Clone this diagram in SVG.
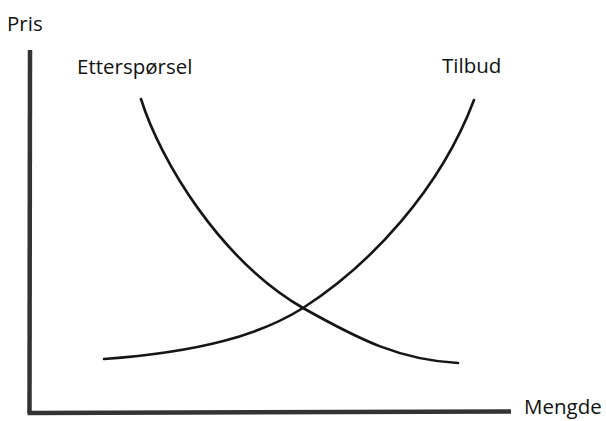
<svg xmlns="http://www.w3.org/2000/svg" width="606" height="421" viewBox="0 0 606 421">
<style>
.lbl{font-family:"Open Sans","Liberation Sans",sans-serif;font-size:20.5px;fill:#111}
.axis{fill:none;stroke:#333;stroke-width:4.5;stroke-linecap:butt}
.curve{fill:none;stroke:#151515;stroke-width:2.6;stroke-linecap:round}
</style>
<rect width="606" height="421" fill="#fff"/>
<g id="axes">
<path class="axis" d="M30,50 L29.5,413"/>
<path class="axis" d="M27.5,413 L511,411.5"/>
<text class="lbl" x="7" y="31">Pris</text>
<text class="lbl" x="524" y="414">Mengde</text>
</g>
<g id="demand">
<path class="curve" d="M141,99 C160,160 220,260 303,308 C360,340 400,360 458,363"/>
<text class="lbl" x="77" y="74">Etterspørsel</text>
</g>
<g id="supply">
<path class="curve" d="M104,359 C200,352 260,335 303,308 C370,265 440,190 474,100"/>
<text class="lbl" x="442" y="73">Tilbud</text>
</g>
</svg>
